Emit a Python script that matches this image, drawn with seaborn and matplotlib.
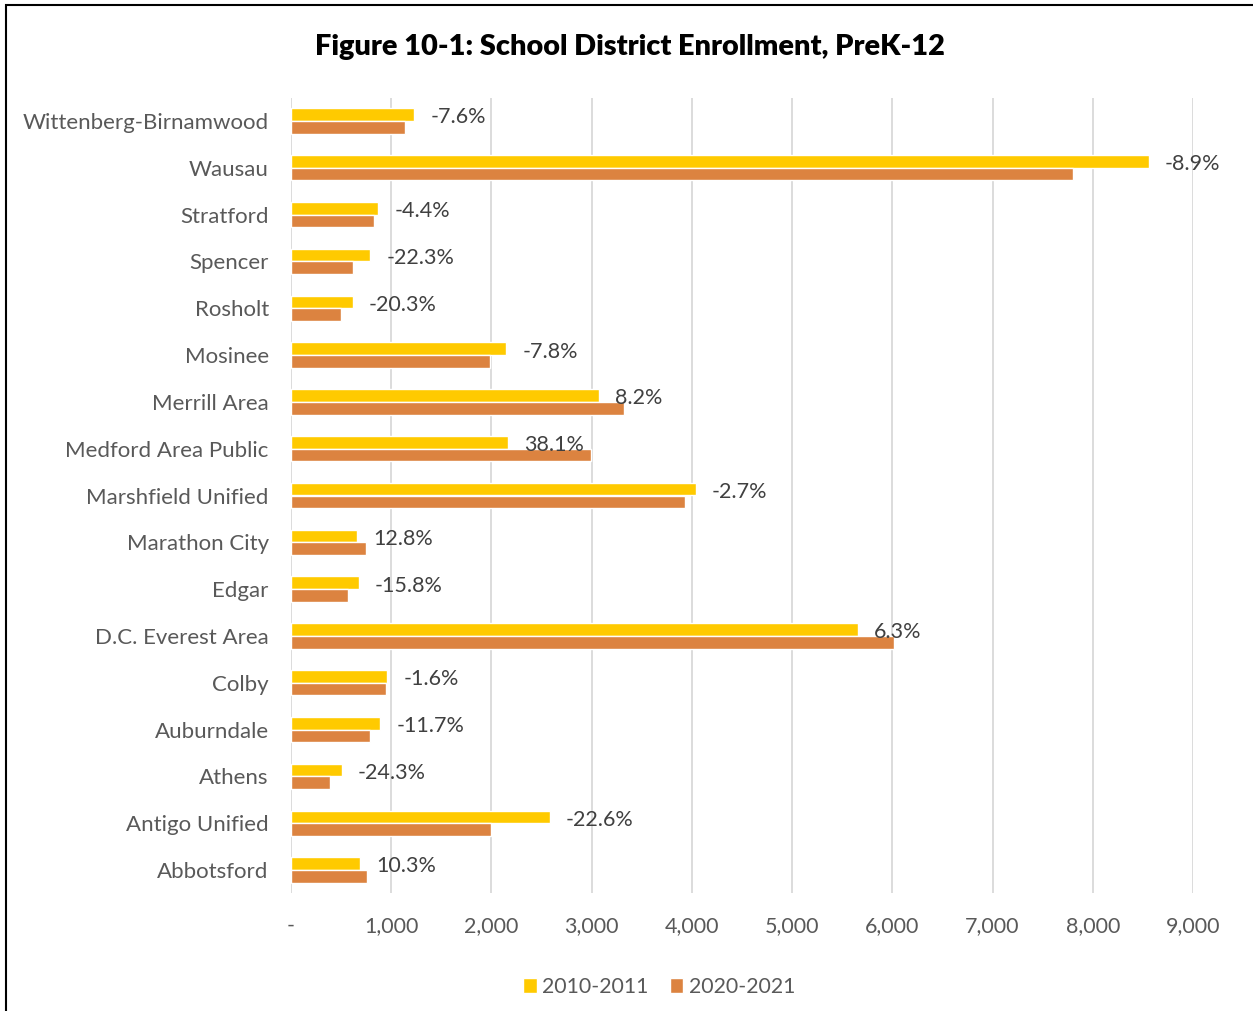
import matplotlib
matplotlib.use("Agg")
import matplotlib.pyplot as plt
from matplotlib.patches import Rectangle
from matplotlib.ticker import FuncFormatter
import seaborn as sns
import pandas as pd

districts = [
    "Wittenberg-Birnamwood", "Wausau", "Stratford", "Spencer", "Rosholt",
    "Mosinee", "Merrill Area", "Medford Area Public", "Marshfield Unified",
    "Marathon City", "Edgar", "D.C. Everest Area", "Colby", "Auburndale",
    "Athens", "Antigo Unified", "Abbotsford",
]
enroll_2010 = [1230, 8560, 870, 790, 620, 2150, 3070, 2170, 4040,
               660, 680, 5660, 960, 890, 510, 2580, 690]
enroll_2020 = [1137, 7798, 832, 614, 494, 1982, 3322, 2997, 3931,
               744, 573, 6017, 945, 786, 386, 1997, 761]
pct_change = ["-7.6%", "-8.9%", "-4.4%", "-22.3%", "-20.3%", "-7.8%", "8.2%",
              "38.1%", "-2.7%", "12.8%", "-15.8%", "6.3%", "-1.6%", "-11.7%",
              "-24.3%", "-22.6%", "10.3%"]
periods = ["2010-2011", "2020-2021"]

df = pd.DataFrame({
    "District": districts * 2,
    "Enrollment": enroll_2010 + enroll_2020,
    "Period": [periods[0]] * len(districts) + [periods[1]] * len(districts),
})

sns.set_theme(style="white")
plt.rcParams["font.family"] = ["Lato", "DejaVu Sans"]
text_gray = "#595959"

fig = plt.figure(figsize=(12.53, 10.11), dpi=100)
ax = fig.add_axes([291 / 1253, 117.6 / 1011, 902 / 1253, 795.8 / 1011])

sns.barplot(data=df, y="District", x="Enrollment", hue="Period",
            order=districts, hue_order=periods,
            palette=["#FFCA00", "#DC8340"], orient="h",
            width=0.54, gap=0, saturation=1, ax=ax, legend=True)

ax.set_xlim(0, 9000)
ax.set_xticks(range(0, 9001, 1000))
ax.xaxis.set_major_formatter(FuncFormatter(lambda v, p: "-" if v == 0 else f"{int(v):,}"))
ax.grid(axis="x", color="#D9D9D9", linewidth=1.3)
ax.set_axisbelow(True)
for s in ax.spines.values():
    s.set_visible(False)
ax.tick_params(axis="both", length=0, colors=text_gray)
ax.tick_params(axis="y", pad=16, labelsize=16)
ax.tick_params(axis="x", pad=16, labelsize=15.5)
ax.set_xlabel("")
ax.set_ylabel("")

# percent-change labels beside the 2010-2011 bars
yellow = ax.containers[0]
for bar, lab in zip(yellow, pct_change):
    ax.annotate(lab, (bar.get_width(), bar.get_y() + bar.get_height() / 2),
                xytext=(11.5, -2), textcoords="offset points",
                ha="left", va="center", fontsize=15.5, color="#404040",
                annotation_clip=False)

leg = ax.legend(loc="center", bbox_to_anchor=(659 / 1253, 24 / 1011),
                bbox_transform=fig.transFigure, ncol=2, frameon=False,
                fontsize=15.3, handlelength=0.65, handleheight=0.65,
                handletextpad=0.25, columnspacing=1.0, labelcolor=text_gray)

fig.text(630 / 1253, 1 - 47 / 1011, "Figure 10-1: School District Enrollment, PreK-12",
         ha="center", va="center", fontsize=20.8, fontweight="heavy", color="black")

fig.patches.append(Rectangle((6 / 1253, -0.1), 2.0, 1.1 - 5 / 1011,
                             transform=fig.transFigure, fill=False,
                             edgecolor="black", linewidth=1.5))

fig.savefig("out.png", dpi=100)
